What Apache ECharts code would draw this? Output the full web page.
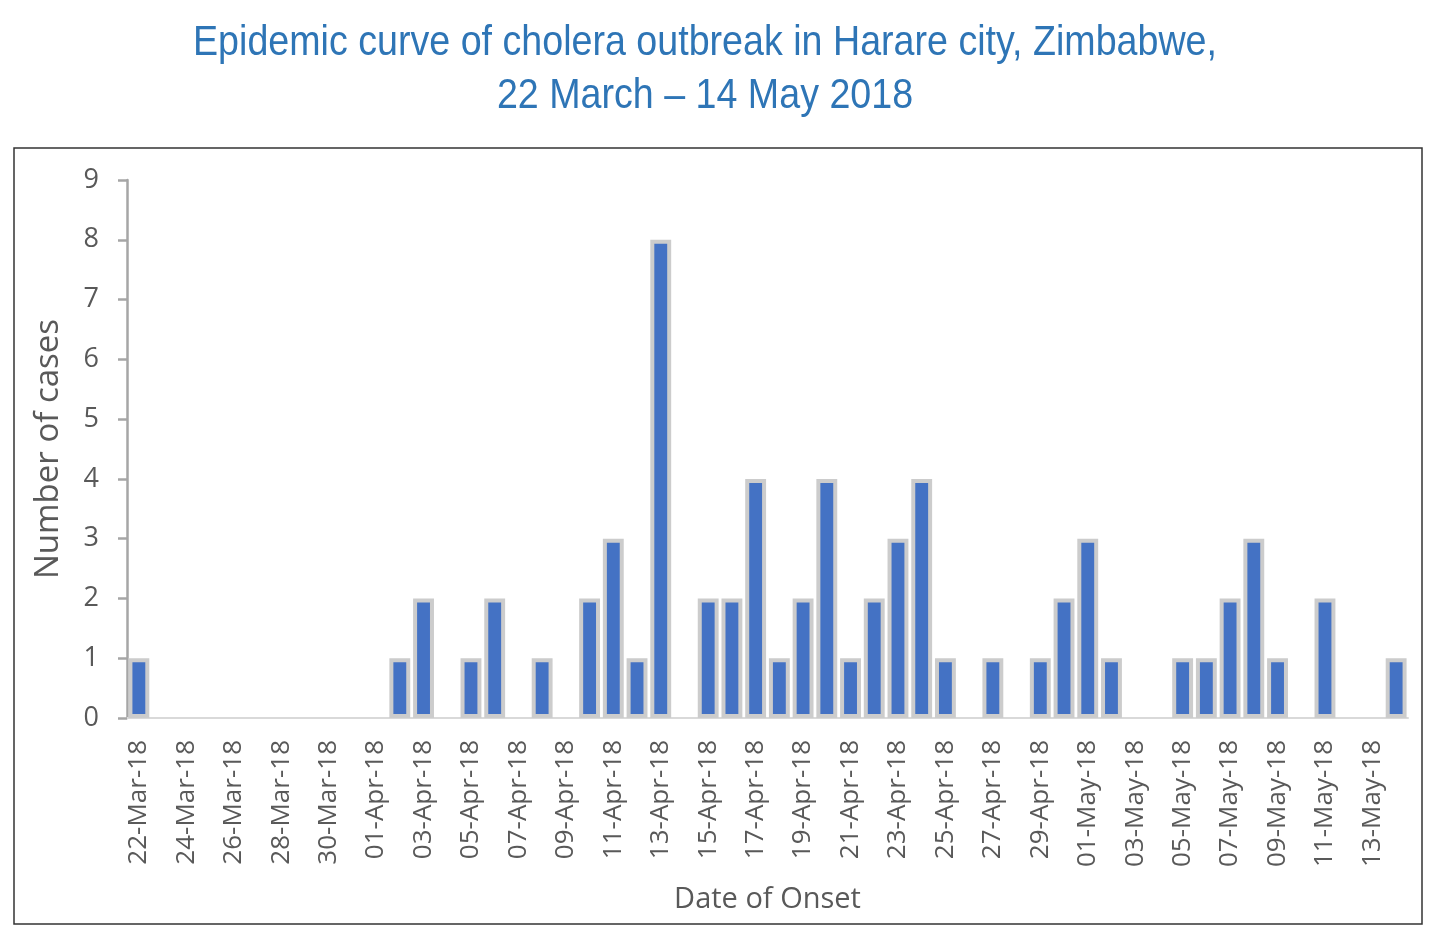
<!DOCTYPE html>
<html>
<head>
<meta charset="utf-8">
<script src="https://cdn.jsdelivr.net/npm/echarts@6/dist/echarts.min.js"></script>
<style>
html,body{margin:0;padding:0;background:#fff;}
#chart{width:1438px;height:942px;}
</style>
</head>
<body>
<div id="chart"></div>
<script>
const titleLines = ['Epidemic curve of cholera outbreak in Harare city, Zimbabwe,', '22 March \u2013 14 May 2018'];
const xAxisTitle = 'Date of Onset';
const yAxisTitle = 'Number of cases';

const dates = [
  '22-Mar-18','23-Mar-18','24-Mar-18','25-Mar-18','26-Mar-18','27-Mar-18','28-Mar-18','29-Mar-18','30-Mar-18','31-Mar-18',
  '01-Apr-18','02-Apr-18','03-Apr-18','04-Apr-18','05-Apr-18','06-Apr-18','07-Apr-18','08-Apr-18','09-Apr-18','10-Apr-18',
  '11-Apr-18','12-Apr-18','13-Apr-18','14-Apr-18','15-Apr-18','16-Apr-18','17-Apr-18','18-Apr-18','19-Apr-18','20-Apr-18',
  '21-Apr-18','22-Apr-18','23-Apr-18','24-Apr-18','25-Apr-18','26-Apr-18','27-Apr-18','28-Apr-18','29-Apr-18','30-Apr-18',
  '01-May-18','02-May-18','03-May-18','04-May-18','05-May-18','06-May-18','07-May-18','08-May-18','09-May-18','10-May-18',
  '11-May-18','12-May-18','13-May-18','14-May-18'
];

const cases = [
  1,0,0,0,0,0,0,0,0,0,
  0,1,2,0,1,2,0,1,0,2,
  3,1,8,0,2,2,4,1,2,4,
  1,2,3,4,1,0,1,0,1,2,
  3,1,0,0,1,1,2,3,1,0,
  2,0,0,1
];

const yTicks = { min: 0, max: 9, interval: 1 };

const chart = echarts.init(document.getElementById('chart'), null, { renderer: 'canvas' });
const axisFont = '"Open Sans", "Noto Sans", sans-serif';
const titleFamily = '"Liberation Sans", Arial, sans-serif';
const titleSize = 42;

// condensed look for the title: measure the natural width and squeeze horizontally
const ctx = document.createElement('canvas').getContext('2d');
ctx.font = titleSize + 'px ' + titleFamily;
const natural = ctx.measureText(titleLines[0]).width || 1200;
const titleScaleX = Math.min(1, 1024 / natural);

function titleText(str, y) {
  return {
    type: 'text',
    x: 705,
    y: y,
    scaleX: titleScaleX,
    silent: true,
    style: {
      text: str,
      x: 0,
      y: 0,
      textAlign: 'center',
      textVerticalAlign: 'middle',
      verticalAlign: 'middle',
      fill: '#2e75b6',
      font: titleSize + 'px ' + titleFamily
    }
  };
}

chart.setOption({
  backgroundColor: '#ffffff',
  animation: false,
  graphic: [
    titleText(titleLines[0], 43),
    titleText(titleLines[1], 96),
    {
      type: 'rect',
      shape: { x: 14, y: 148, width: 1408, height: 776 },
      style: { fill: 'none', stroke: '#333333', lineWidth: 1.5 },
      silent: true
    }
  ],
  grid: { left: 127, right: 30, top: 180, bottom: 224, containLabel: false },
  xAxis: {
    type: 'category',
    data: dates,
    boundaryGap: true,
    name: xAxisTitle,
    nameLocation: 'middle',
    nameGap: 167,
    nameTextStyle: { fontFamily: axisFont, fontSize: 29, color: '#595959' },
    axisLine: { show: true, lineStyle: { color: '#d9d9d9', width: 2 } },
    axisTick: { show: false },
    axisLabel: {
      interval: 1,
      rotate: 90,
      margin: 22,
      fontFamily: axisFont,
      fontSize: 26,
      color: '#595959'
    },
    splitLine: { show: false }
  },
  yAxis: {
    type: 'value',
    min: yTicks.min,
    max: yTicks.max,
    interval: yTicks.interval,
    name: yAxisTitle,
    nameLocation: 'middle',
    nameGap: 62,
    nameTextStyle: { fontFamily: axisFont, fontSize: 33, color: '#595959' },
    axisLine: { show: true, lineStyle: { color: '#a6a6a6', width: 2.5 } },
    axisTick: { show: true, inside: false, length: 9, lineStyle: { color: '#a6a6a6', width: 2.5 } },
    axisLabel: { margin: 28, fontFamily: axisFont, fontSize: 27, color: '#595959' },
    splitLine: { show: false }
  },
  series: [{
    type: 'bar',
    data: cases.map(v => (v === 0 ? '-' : v)),
    barWidth: '88%',
    itemStyle: { color: '#4472c4', borderColor: '#cccccc', borderWidth: 4 },
    z: 1
  }]
});
</script>
</body>
</html>
